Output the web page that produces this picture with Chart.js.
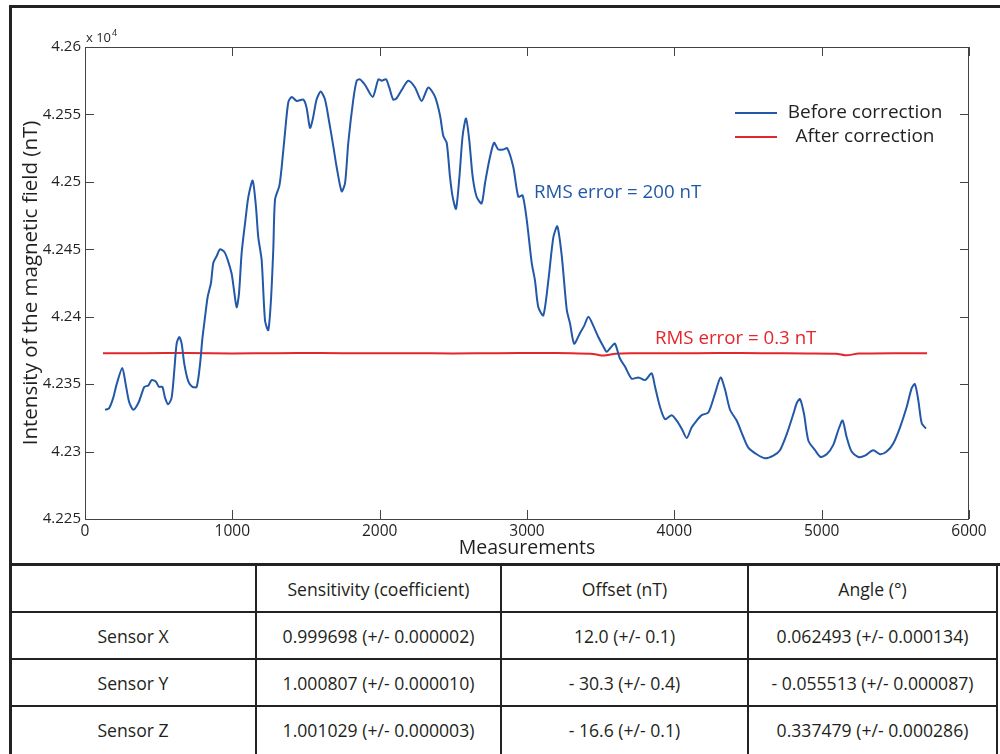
<!DOCTYPE html>
<html><head><meta charset="utf-8">
<script src="https://cdn.jsdelivr.net/npm/chart.js@4.4.1/dist/chart.umd.min.js"></script>
<style>
html,body{margin:0;padding:0;background:#fff;width:1000px;height:754px;overflow:hidden;font-family:"Open Sans",sans-serif;color:#231f20;}
#wrap{position:relative;width:1000px;height:754px;overflow:hidden;}
#chartBox{position:absolute;left:0;top:0;width:1000px;height:565px;}
.ln{position:absolute;background:#222;}
.cell{position:absolute;display:flex;align-items:center;justify-content:center;font-size:17.6px;color:#231f20;white-space:nowrap;}
</style>
</head><body>
<div id="wrap">
  <div id="chartBox"><canvas id="c" width="1000" height="565"></canvas></div>
  <div id="table"></div>
</div>
<script>
// ---- data ----
const blueX = [136,163,192,215,253,276,299,328,362,385,403,430,452,480,502,525,543,565,588,606,622,640,656,674,701,729,758,781,796,815,833,855,871,894,916,946,969,995,1011,1029,1045,1063,1086,1109,1138,1160,1176,1199,1222,1244,1262,1278,1290,1319,1335,1357,1380,1403,1436,1482,1504,1527,1545,1572,1600,1629,1658,1686,1708,1742,1765,1787,1821,1844,1866,1900,1953,1991,2014,2043,2065,2092,2115,2149,2194,2240,2285,2330,2376,2410,2432,2455,2477,2495,2518,2540,2563,2586,2608,2631,2658,2692,2715,2744,2776,2805,2839,2866,2907,2941,2970,2998,3032,3054,3077,3111,3145,3179,3206,3236,3270,3292,3320,3360,3387,3417,3451,3484,3518,3541,3575,3597,3631,3665,3711,3756,3801,3846,3869,3903,3937,3982,4016,4050,4084,4118,4152,4186,4231,4276,4314,4344,4378,4423,4468,4502,4559,4615,4672,4717,4763,4808,4831,4853,4880,4910,4955,4993,5034,5079,5113,5142,5169,5203,5249,5294,5350,5396,5441,5486,5532,5577,5611,5633,5656,5679,5708];
const blueY = [42331,42332,42340,42350,42362,42350,42337,42331,42336,42343,42348,42349,42353,42352,42348,42348,42340,42335,42340,42360,42380,42385,42380,42365,42352,42348,42348,42365,42383,42400,42415,42425,42440,42445,42450,42448,42442,42432,42420,42407,42417,42447,42469,42489,42501,42482,42459,42442,42397,42390,42412,42450,42487,42497,42511,42536,42559,42563,42560,42561,42555,42540,42546,42561,42567,42561,42544,42526,42511,42493,42499,42529,42561,42575,42576,42572,42563,42576,42575,42576,42570,42561,42562,42568,42575,42570,42560,42570,42563,42549,42534,42529,42504,42489,42480,42502,42534,42547,42531,42504,42489,42484,42499,42516,42529,42524,42524,42525,42511,42489,42490,42472,42440,42427,42407,42401,42427,42459,42467,42445,42405,42395,42380,42388,42393,42400,42393,42385,42378,42374,42378,42380,42369,42363,42354,42355,42353,42358,42348,42333,42324,42327,42323,42317,42310,42318,42323,42327,42329,42343,42355,42346,42331,42323,42311,42303,42298,42295,42297,42301,42313,42328,42336,42339,42328,42308,42301,42296,42298,42305,42316,42323,42311,42300,42296,42297,42301,42298,42300,42306,42318,42333,42347,42350,42338,42321,42317];
const redX = [122,400,700,1000,1300,1600,1900,2200,2500,2800,3100,3300,3450,3520,3600,3700,4000,4300,4600,4900,5100,5170,5250,5500,5715];
const redY = [42373.0,42372.9,42373.1,42372.8,42373.0,42373.1,42372.9,42373.0,42372.8,42373.0,42373.1,42372.9,42372.4,42371.2,42372.6,42373.0,42372.9,42373.1,42373.0,42372.8,42372.6,42371.4,42372.7,42373.0,42372.9];
const seriesNames = ["Before correction","After correction"];
const xTickValues = [0,1000,2000,3000,4000,5000,6000];
const yTickValues = [42250,42300,42350,42400,42450,42500,42550,42600];
const yTickLabels = ["4.225","4.23","4.235","4.24","4.245","4.25","4.255","4.26"];
const rmsLabels = ["RMS error = 200 nT","RMS error = 0.3 nT"];

const tableHeader = ["","Sensitivity (coefficient)","Offset (nT)","Angle (°)"];
const sensors = ["Sensor X","Sensor Y","Sensor Z"];
const sensitivity = ["0.999698 (+/- 0.000002)","1.000807 (+/- 0.000010)","1.001029 (+/- 0.000003)"];
const offsetNT = ["12.0 (+/- 0.1)","- 30.3 (+/- 0.4)","- 16.6 (+/- 0.1)"];
const angleDeg = ["0.062493 (+/- 0.000134)","- 0.055513 (+/- 0.000087)","0.337479 (+/- 0.000286)"];

const BLUE = "#2358a8", RED = "#e3262b", INK = "#231f20", AXIS = "#444";
const FONT = "'Open Sans', sans-serif";

// ---- table ----
(function(){
  const t = document.getElementById('table');
  const colX = [10,256,501,748,997];
  const rowY = [565,612,659,706,754];
  const rows = [tableHeader].concat(sensors.map((s,i)=>[s,sensitivity[i],offsetNT[i],angleDeg[i]]));
  rows.forEach((r,ri)=>r.forEach((txt,ci)=>{
    const d=document.createElement('div'); d.className='cell';
    d.style.left=colX[ci]+'px'; d.style.top=rowY[ri]+'px';
    d.style.width=(colX[ci+1]-colX[ci])+'px'; d.style.height=(rowY[ri+1]-rowY[ri])+'px';
    d.textContent=txt; t.appendChild(d);
  }));
  function line(x,y,w,h){const d=document.createElement('div');d.className='ln';d.style.left=x+'px';d.style.top=y+'px';d.style.width=w+'px';d.style.height=h+'px';t.appendChild(d);}
  line(9,5,991,3); line(9,5,3,749); line(9,563,991,3);
  [612,659,706].forEach(y=>line(10,y-1,988,2));
  [256,501,748,997].forEach(x=>line(x-1,565,2,189));
})();

// ---- chart ----
const frame = {
  id:'frame',
  afterDatasetsDraw(chart){
    const {ctx, chartArea:a, scales:{x,y}} = chart;
    ctx.save();
    ctx.strokeStyle = AXIS; ctx.lineWidth = 1;
    ctx.strokeRect(a.left+0.5, a.top+0.5, a.right-a.left-1, a.bottom-a.top);
    const L = 9;
    ctx.beginPath();
    x.ticks.forEach(t=>{const p=Math.round(x.getPixelForValue(t.value))+0.5;
      ctx.moveTo(p,a.bottom); ctx.lineTo(p,a.bottom-L); ctx.moveTo(p,a.top); ctx.lineTo(p,a.top+L);});
    y.ticks.forEach(t=>{const p=Math.round(y.getPixelForValue(t.value))+0.5;
      ctx.moveTo(a.left,p); ctx.lineTo(a.left+L,p); ctx.moveTo(a.right,p); ctx.lineTo(a.right-L,p);});
    ctx.stroke();
    ctx.fillStyle = INK; ctx.textBaseline='alphabetic'; ctx.textAlign='left';
    ctx.font = "13px "+FONT; ctx.fillText("x 10", a.left+1, a.top-5);
    const w = ctx.measureText("x 10").width;
    ctx.font = "9px "+FONT; ctx.fillText("4", a.left+1+w+1, a.top-11);
    ctx.font = "18.7px "+FONT; ctx.textBaseline='middle';
    ctx.fillStyle = BLUE; ctx.fillText(rmsLabels[0], x.getPixelForValue(3048), y.getPixelForValue(42492));
    ctx.fillStyle = RED; ctx.fillText(rmsLabels[1], x.getPixelForValue(3869), y.getPixelForValue(42384));
    const ds = chart.data.datasets;
    ds.forEach((d,i)=>{
      const ly = a.top + 66 + i*24;
      ctx.strokeStyle = d.borderColor; ctx.lineWidth = 2;
      ctx.beginPath(); ctx.moveTo(735,ly); ctx.lineTo(777,ly); ctx.stroke();
      ctx.fillStyle = INK; ctx.textAlign='center'; ctx.font = "19px "+FONT;
      ctx.fillText(d.label, 865, ly);
    });
    ctx.restore();
  }
};

new Chart(document.getElementById('c'), {
  type:'scatter',
  data:{datasets:[
    {label:seriesNames[0], data:blueX.map((v,i)=>({x:v,y:blueY[i]})), showLine:true, borderColor:BLUE, borderWidth:2, pointRadius:0, tension:0.25, fill:false},
    {label:seriesNames[1], data:redX.map((v,i)=>({x:v,y:redY[i]})), showLine:true, borderColor:RED, borderWidth:2, pointRadius:0, tension:0.2, fill:false}
  ]},
  options:{
    responsive:false, animation:false, devicePixelRatio:1,
    layout:{padding:{left:0,top:47,right:31,bottom:0}},
    plugins:{legend:{display:false}, tooltip:{enabled:false}},
    scales:{
      x:{type:'linear', min:0, max:6000,
        afterBuildTicks(s){s.ticks = xTickValues.map(v=>({value:v}));},
        afterFit(s){s.height=46;},
        grid:{display:false, drawTicks:false},
        border:{display:false},
        ticks:{color:INK, font:{family:FONT,size:15.5}, padding:3, maxRotation:0, callback:v=>String(v)},
        title:{display:true, text:"Measurements", color:INK, font:{family:FONT,size:19.5}, padding:{top:0,bottom:5}}
      },
      y:{type:'linear', min:42250, max:42600,
        afterBuildTicks(s){s.ticks = yTickValues.map(v=>({value:v}));},
        afterFit(s){s.width=85;},
        grid:{display:false, drawTicks:false},
        border:{display:false},
        ticks:{color:INK, font:{family:FONT,size:15}, padding:4, callback:v=>yTickLabels[yTickValues.indexOf(v)]},
        title:{display:true, text:"Intensity of the magnetic field (nT)", color:INK, font:{family:FONT,size:20.5}, padding:{top:19,bottom:0}}
      }
    }
  },
  plugins:[frame]
});
</script>
</body></html>
